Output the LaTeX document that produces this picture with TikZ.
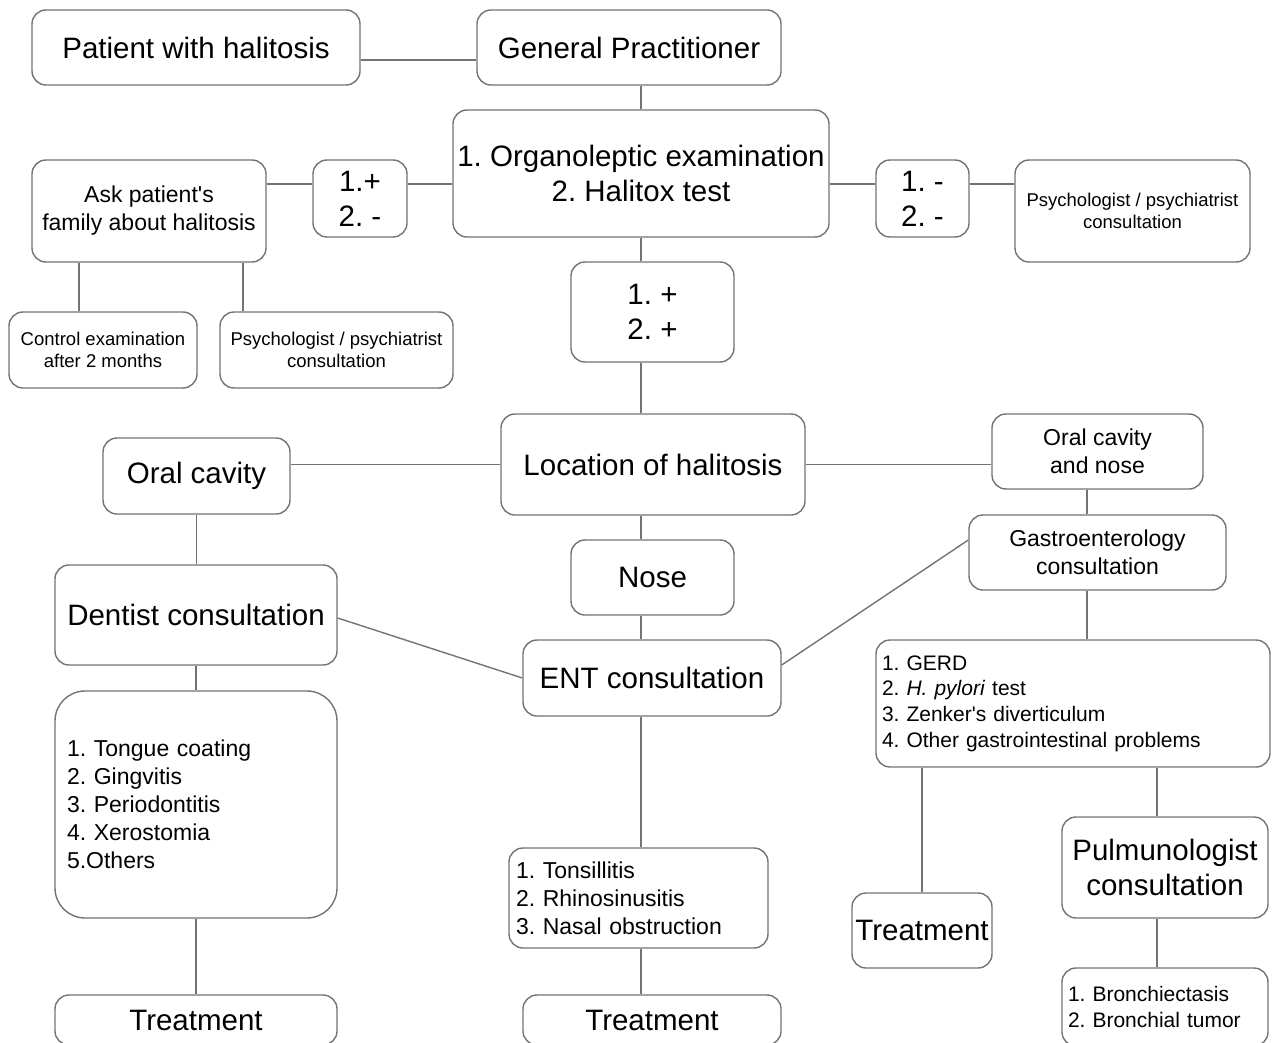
\documentclass[tikz,border=0pt]{standalone}
\usepackage{fontspec}
\setmainfont{Liberation Sans}
\frenchspacing

\begin{document}
\begin{tikzpicture}[x=1pt,y=-1pt,
  box/.style={draw=black!55,line width=1.4pt,rounded corners=14pt,fill=white,inner sep=0pt,align=center},
  big/.style={font=\fontsize{29.5}{35}\selectfont},
  mid/.style={font=\fontsize{23}{28}\selectfont},
  lst/.style={font=\fontsize{21}{25.6}\selectfont},
  sml/.style={font=\fontsize{18.5}{22}\selectfont},
  link/.style={draw=black!55,line width=1.4pt}]
\useasboundingbox (0,0) rectangle (1273,1043);
\clip (0,0) rectangle (1273,1043);
% upper part: first visit and tests
\node[box,big,minimum width=328,minimum height=75] (pat) at (196,47.5) {Patient with halitosis};
\node[box,big,minimum width=304,minimum height=75] (gp) at (629,47.5) {General Practitioner};
\node[box,big,minimum width=376,minimum height=127] (org) at (641,173.5) {1. Organoleptic examination\\2. Halitox test};
\node[box,big,minimum width=94,minimum height=77] (pm) at (360,198.5) {1.+\\2. -};
\node[box,mid,minimum width=234,minimum height=102] (ask) at (149,211) {Ask patient\textquotesingle s\\family about halitosis};
\node[box,big,minimum width=93,minimum height=77] (mm) at (922.5,198.5) {1. -\\2. -};
\node[box,sml,minimum width=235,minimum height=102] (psyR) at (1132.5,211) {Psychologist / psychiatrist\\consultation};
\node[box,sml,minimum width=188,minimum height=76] (ctrl) at (103,350) {Control examination\\after 2 months};
\node[box,sml,minimum width=233,minimum height=76] (psyL) at (336.5,350) {Psychologist / psychiatrist\\consultation};
\node[box,big,minimum width=163,minimum height=100] (pp) at (652.5,312) {1. +\\2. +};
% location of halitosis
\node[box,big,minimum width=304,minimum height=101] (loc) at (653,464.5) {Location of halitosis};
\node[box,big,minimum width=187,minimum height=76] (oral) at (196.5,476) {Oral cavity};
\node[box,mid,minimum width=211,minimum height=75] (ocn) at (1097.5,451.5) {Oral cavity\\and nose};
\node[box,big,minimum width=163,minimum height=75] (nose) at (652.5,577.5) {Nose};
\node[box,mid,minimum width=257,minimum height=75] (gastro) at (1097.5,552.5) {Gastroenterology\\consultation};
\node[box,big,minimum width=258,minimum height=76] (ent) at (652,678) {ENT consultation};
\node[box,big,minimum width=282,minimum height=100] (dent) at (196,615) {Dentist consultation};
% diagnoses
\node[box,lst,minimum width=394,minimum height=127,inner xsep=6,text width=382,align=left] (gerd) at (1073,703.5) {1. GERD\\2. \textit{H. pylori} test\\3. Zenker\textquotesingle s diverticulum\\4. Other gastrointestinal problems};
\node[box,mid,rounded corners=30pt,minimum width=282,minimum height=227,inner xsep=12,text width=258,align=left] (tongue) at (196,804.5) {1. Tongue coating\\2. Gingvitis\\3. Periodontitis\\4. Xerostomia\\5.Others};
\node[box,mid,minimum width=259,minimum height=100,inner xsep=7,text width=245,align=left] (tons) at (638.5,898) {1. Tonsillitis\\2. Rhinosinusitis\\3. Nasal obstruction};
\node[box,big,minimum width=206,minimum height=101] (pulmo) at (1165,867.5) {Pulmunologist\\consultation};
\node[box,lst,minimum width=206,minimum height=78,inner xsep=6,text width=194,align=left] (bron) at (1165,1007) {1. Bronchiectasis\\2. Bronchial tumor};
% treatment
\node[box,big,minimum width=282,minimum height=50] (treat1) at (196,1020) {Treatment};
\node[box,big,minimum width=258,minimum height=50] (treat2) at (652,1020) {Treatment};
\node[box,big,minimum width=140,minimum height=75] (tgi) at (922,930.5) {Treatment};

% connectors
\coordinate (spine) at (641,0);
\draw[link] ([yshift=-12.5]pat.east) -- ([yshift=-12.5]gp.west);
\draw[link] (spine |- gp.south) -- (spine |- org.north);
\draw[link] ([yshift=27]ask.east) -- ([yshift=14.5]pm.west);
\draw[link] ([yshift=14.5]pm.east) -- ([yshift=-10.5]org.west);
\draw[link] ([yshift=-10.5]org.east) -- ([yshift=14.5]mm.west);
\draw[link] ([yshift=14.5]mm.east) -- ([yshift=27]psyR.west);
\draw[link] ([xshift=-24]ctrl.north) -- ([xshift=-24]ctrl.north |- ask.south);
\draw[link] ([xshift=-93.5]psyL.north) -- ([xshift=-93.5]psyL.north |- ask.south);
\draw[link] (spine |- org.south) -- (spine |- pp.north);
\draw[link] (spine |- pp.south) -- (spine |- loc.north);
\draw[link] (loc.west) -- (loc.west -| oral.east);
\draw[link] (loc.east) -- (loc.east -| ocn.west);
\draw[link] (spine |- loc.south) -- (spine |- nose.north);
\draw[link] (spine |- nose.south) -- (spine |- ent.north);
\draw[link] (spine |- ent.south) -- (spine |- tons.north);
\draw[link] (spine |- tons.south) -- (spine |- treat2.north);
\draw[link] (oral.south) -- (oral.south |- dent.north);
\draw[link] (dent.south) -- (tongue.north);
\draw[link] (tongue.south) -- (treat1.north);
\draw[link] ([yshift=-3]dent.east) -- (ent.west);
\draw[link] ([yshift=13]ent.east) -- ([yshift=12.5]gastro.west);
\draw[link] ([xshift=-10.5]ocn.south) -- ([xshift=-10.5]ocn.south |- gastro.north);
\draw[link] ([xshift=-10.5]gastro.south) -- ([xshift=-10.5]gastro.south |- gerd.north);
\draw[link] (tgi.north |- gerd.south) -- (tgi.north);
\draw[link] ([xshift=-8]pulmo.north) -- ([xshift=-8]pulmo.north |- gerd.south);
\draw[link] ([xshift=-8]pulmo.south) -- ([xshift=-8]bron.north);
\end{tikzpicture}
\end{document}
